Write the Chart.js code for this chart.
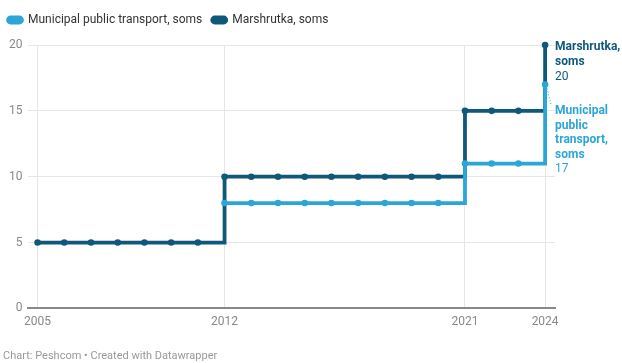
<!DOCTYPE html>
<html>
<head>
<meta charset="utf-8">
<script src="https://cdn.jsdelivr.net/npm/chart.js@4.4.0/dist/chart.umd.min.js"></script>
<style>
  html, body { margin: 0; padding: 0; background: #fff; }
  #wrap { position: relative; width: 622px; height: 363px; }
</style>
</head>
<body>
<div id="wrap"><canvas id="chart"></canvas></div>
<script>
// Data
const years = [2005, 2006, 2007, 2008, 2009, 2010, 2011, 2012, 2013, 2014,
  2015, 2016, 2017, 2018, 2019, 2020, 2021, 2022, 2023, 2024];
const marshrutka = [5, 5, 5, 5, 5, 5, 5, 10, 10, 10, 10, 10, 10, 10, 10, 10, 15, 15, 15, 20];
const municipal = [null, null, null, null, null, null, null, 8, 8, 8, 8, 8, 8, 8, 8, 8, 11, 11, 11, 17];
const xTicks = [2005, 2012, 2021, 2024];
const yTicks = [0, 5, 10, 15, 20];

const DARK = '#0f587c';
const LIGHT = '#2ba6d6';
const FONT = 'Roboto, "Liberation Sans", sans-serif';

function toPoints(vals) {
  return years.map((y, i) => ({ x: y, y: vals[i] }));
}

// extra room under the legend, and pull it a bit to the left
const legendMargin = {
  id: 'legendMargin',
  beforeInit(chart) {
    const fit = chart.legend.fit;
    chart.legend.fit = function () {
      fit.bind(chart.legend)();
      this.height += 9;
    };
  },
  beforeDraw(chart) {
    chart.legend.left = -2;
  }
};

// Labels at the line ends
const endLabels = {
  id: 'endLabels',
  afterDatasetsDraw(chart) {
    const ctx = chart.ctx;
    const items = [
      { ds: 1, name: ['Marshrutka,', 'soms'], color: DARK, lh: 15 },
      { ds: 0, name: ['Municipal', 'public', 'transport,', 'soms'], color: LIGHT, lh: 14.5 }
    ];
    let prevEnd = -Infinity;
    ctx.save();
    ctx.textBaseline = 'middle';
    ctx.textAlign = 'left';
    items.forEach(it => {
      const meta = chart.getDatasetMeta(it.ds);
      const pt = meta.data[meta.data.length - 1];
      const vals = chart.data.datasets[it.ds].data;
      const val = vals[vals.length - 1].y;
      const x = pt.x + 10;
      let y = Math.max(pt.y + 2, prevEnd + 34);
      if (y - pt.y > 10) {
        // dotted connector
        ctx.strokeStyle = it.color;
        ctx.lineWidth = 1;
        ctx.setLineDash([1, 2]);
        ctx.beginPath();
        ctx.moveTo(pt.x + 2, pt.y + 4);
        ctx.lineTo(x - 4, y - 6);
        ctx.stroke();
        ctx.setLineDash([]);
      }
      ctx.fillStyle = it.color;
      ctx.font = 'bold 12px ' + FONT;
      it.name.forEach((t, i) => ctx.fillText(t, x, y + i * it.lh));
      ctx.font = '12px ' + FONT;
      const last = y + it.name.length * it.lh;
      ctx.fillText(String(val), x, last);
      prevEnd = last;
    });
    ctx.restore();
  }
};

const chart = new Chart(document.getElementById('chart'), {
  type: 'line',
  data: {
    datasets: [
      {
        label: 'Municipal public transport, soms',
        data: toPoints(municipal),
        borderColor: LIGHT,
        backgroundColor: LIGHT,
        stepped: 'before',
        borderWidth: 3.8,
        pointRadius: 3.3,
        pointBorderWidth: 0,
        clip: false
      },
      {
        label: 'Marshrutka, soms',
        data: toPoints(marshrutka),
        borderColor: DARK,
        backgroundColor: DARK,
        stepped: 'before',
        borderWidth: 3.8,
        pointRadius: 3.3,
        pointBorderWidth: 0,
        clip: false
      }
    ]
  },
  options: {
    responsive: true,
    maintainAspectRatio: false,
    animation: false,
    layout: { padding: { left: 3, right: 67, top: 4, bottom: 0 } },
    plugins: {
      legend: {
        position: 'top',
        align: 'start',
        labels: {
          color: '#333',
          font: { family: FONT, size: 12 },
          boxWidth: 14,
          boxHeight: 5,
          useBorderRadius: true,
          borderRadius: 2.5,
          padding: 10
        }
      },
      title: {
        display: true,
        position: 'bottom',
        align: 'start',
        text: 'Chart: Peshcom \u2022 Created with Datawrapper',
        color: '#999',
        font: { family: FONT, size: 11, weight: 'normal' },
        padding: { top: 15, bottom: 0 }
      },
      tooltip: { enabled: false }
    },
    scales: {
      x: {
        type: 'linear',
        min: 2004.66,
        max: 2024.37,
        afterBuildTicks: axis => { axis.ticks = xTicks.map(v => ({ value: v })); },
        ticks: {
          color: '#888',
          font: { family: FONT, size: 12 },
          padding: 6,
          callback: v => String(v)
        },
        grid: { color: '#e6e6e6', drawTicks: false },
        border: { color: '#888', width: 2 }
      },
      y: {
        min: 0,
        max: 20,
        afterBuildTicks: axis => { axis.ticks = yTicks.map(v => ({ value: v })); },
        ticks: {
          color: '#888',
          font: { family: FONT, size: 12 },
          padding: 6
        },
        grid: { color: '#e6e6e6', drawTicks: false },
        border: { display: false }
      }
    }
  },
  plugins: [legendMargin, endLabels]
});
</script>
</body>
</html>
